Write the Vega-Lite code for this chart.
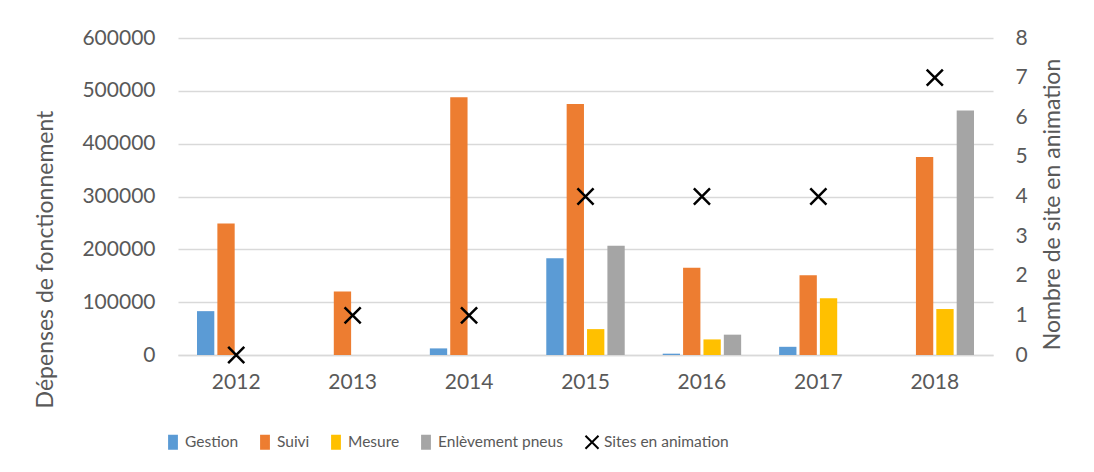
{
  "$schema": "https://vega.github.io/schema/vega-lite/v6.json",
  "autosize": "none",
  "width": 815,
  "height": 317,
  "padding": {"left": 178, "top": 38, "right": 101, "bottom": 117},
  "background": "white",
  "config": {
    "font": "Lato",
    "view": {"stroke": null},
    "axis": {"labelFont": "Lato", "titleFont": "Lato", "labelColor": "#595959", "titleColor": "#595959", "titleFontWeight": "normal"}
  },
  "datasets": {
    "depenses": [
      {"annee": "2012", "serie": "Gestion", "montant": 83000},
      {"annee": "2012", "serie": "Suivi", "montant": 249000},
      {"annee": "2013", "serie": "Suivi", "montant": 120000},
      {"annee": "2014", "serie": "Gestion", "montant": 12500},
      {"annee": "2014", "serie": "Suivi", "montant": 488000},
      {"annee": "2015", "serie": "Gestion", "montant": 183000},
      {"annee": "2015", "serie": "Suivi", "montant": 475000},
      {"annee": "2015", "serie": "Mesure", "montant": 49000},
      {"annee": "2015", "serie": "Enlèvement pneus", "montant": 207000},
      {"annee": "2016", "serie": "Gestion", "montant": 2500},
      {"annee": "2016", "serie": "Suivi", "montant": 165000},
      {"annee": "2016", "serie": "Mesure", "montant": 29500},
      {"annee": "2016", "serie": "Enlèvement pneus", "montant": 38500},
      {"annee": "2017", "serie": "Gestion", "montant": 15500},
      {"annee": "2017", "serie": "Suivi", "montant": 151000},
      {"annee": "2017", "serie": "Mesure", "montant": 107500},
      {"annee": "2018", "serie": "Suivi", "montant": 375000},
      {"annee": "2018", "serie": "Mesure", "montant": 87000},
      {"annee": "2018", "serie": "Enlèvement pneus", "montant": 463000}
    ],
    "sites": [
      {"annee": "2012", "serie": "Sites en animation", "sites": 0},
      {"annee": "2013", "serie": "Sites en animation", "sites": 1},
      {"annee": "2014", "serie": "Sites en animation", "sites": 1},
      {"annee": "2015", "serie": "Sites en animation", "sites": 4},
      {"annee": "2016", "serie": "Sites en animation", "sites": 4},
      {"annee": "2017", "serie": "Sites en animation", "sites": 4},
      {"annee": "2018", "serie": "Sites en animation", "sites": 7}
    ]
  },
  "encoding": {
    "x": {
      "field": "annee", "type": "nominal",
      "scale": {"paddingInner": 0.3, "paddingOuter": 0.15},
      "axis": {"title": null, "labelAngle": 0, "labelFontSize": 21, "labelPadding": 16, "ticks": false, "domain": true, "domainColor": "#D9D9D9", "domainWidth": 1.5, "grid": false}
    }
  },
  "layer": [
    {
      "data": {"name": "depenses"},
      "mark": {"type": "bar"},
      "encoding": {
        "xOffset": {"field": "serie", "type": "nominal", "scale": {"domain": ["Gestion", "Suivi", "Mesure", "Enlèvement pneus"], "paddingInner": 0.15, "paddingOuter": 0.075}},
        "y": {
          "field": "montant", "type": "quantitative",
          "scale": {"domain": [0, 600000]},
          "axis": {"title": "Dépenses de fonctionnement", "values": [0, 100000, 200000, 300000, 400000, 500000, 600000], "format": "d", "labelFontSize": 21, "labelPadding": 23, "titleFontSize": 23, "titlePadding": 24, "titleY": 221, "grid": true, "gridColor": "#D9D9D9", "gridWidth": 1.5, "domain": false, "ticks": false}
        },
        "color": {
          "field": "serie", "type": "nominal",
          "scale": {"domain": ["Gestion", "Suivi", "Mesure", "Enlèvement pneus", "Sites en animation"], "range": ["#5B9BD5", "#ED7D31", "#FFC000", "#A5A5A5", "#000000"]}
        }
      }
    },
    {
      "data": {"name": "sites"},
      "mark": {"type": "point", "filled": false, "strokeWidth": 2.5, "size": 260, "opacity": 1},
      "encoding": {
        "y": {
          "field": "sites", "type": "quantitative",
          "scale": {"domain": [0, 8]},
          "axis": {"orient": "right", "title": "Nombre de site en animation", "values": [0, 1, 2, 3, 4, 5, 6, 7, 8], "labelFontSize": 21, "labelPadding": 22, "titleFontSize": 23, "titleAngle": 270, "titleBaseline": "middle", "titleX": 59, "titleY": 166, "grid": false, "domain": false, "ticks": false}
        },
        "color": {
          "field": "serie", "type": "nominal",
          "legend": {
            "title": null, "orient": "none", "direction": "horizontal", "legendX": -13, "legendY": 396,
            "labelFont": "Lato", "labelFontSize": 15.5, "labelColor": "#595959", "labelOffset": 4,
            "columnPadding": 18, "symbolSize": 170, "symbolStrokeWidth": 2,
            "encode": {"symbols": {"update": {"fill": {"scale": "color", "field": "value"}}}}
          }
        },
        "shape": {
          "field": "serie", "type": "nominal",
          "scale": {"domain": ["Gestion", "Suivi", "Mesure", "Enlèvement pneus", "Sites en animation"], "range": ["M-0.6,-1H0.6V1H-0.6Z", "M-0.6,-1H0.6V1H-0.6Z", "M-0.6,-1H0.6V1H-0.6Z", "M-0.6,-1H0.6V1H-0.6Z", "M-1,-1L1,1M1,-1L-1,1"]},
          "legend": {
            "title": null, "orient": "none", "direction": "horizontal", "legendX": -13, "legendY": 396,
            "labelFont": "Lato", "labelFontSize": 15.5, "labelColor": "#595959", "labelOffset": 4,
            "columnPadding": 18, "symbolSize": 170, "symbolStrokeWidth": 2,
            "encode": {"symbols": {"update": {"fill": {"scale": "color", "field": "value"}}}}
          }
        }
      }
    }
  ],
  "resolve": {"scale": {"y": "independent"}}
}
